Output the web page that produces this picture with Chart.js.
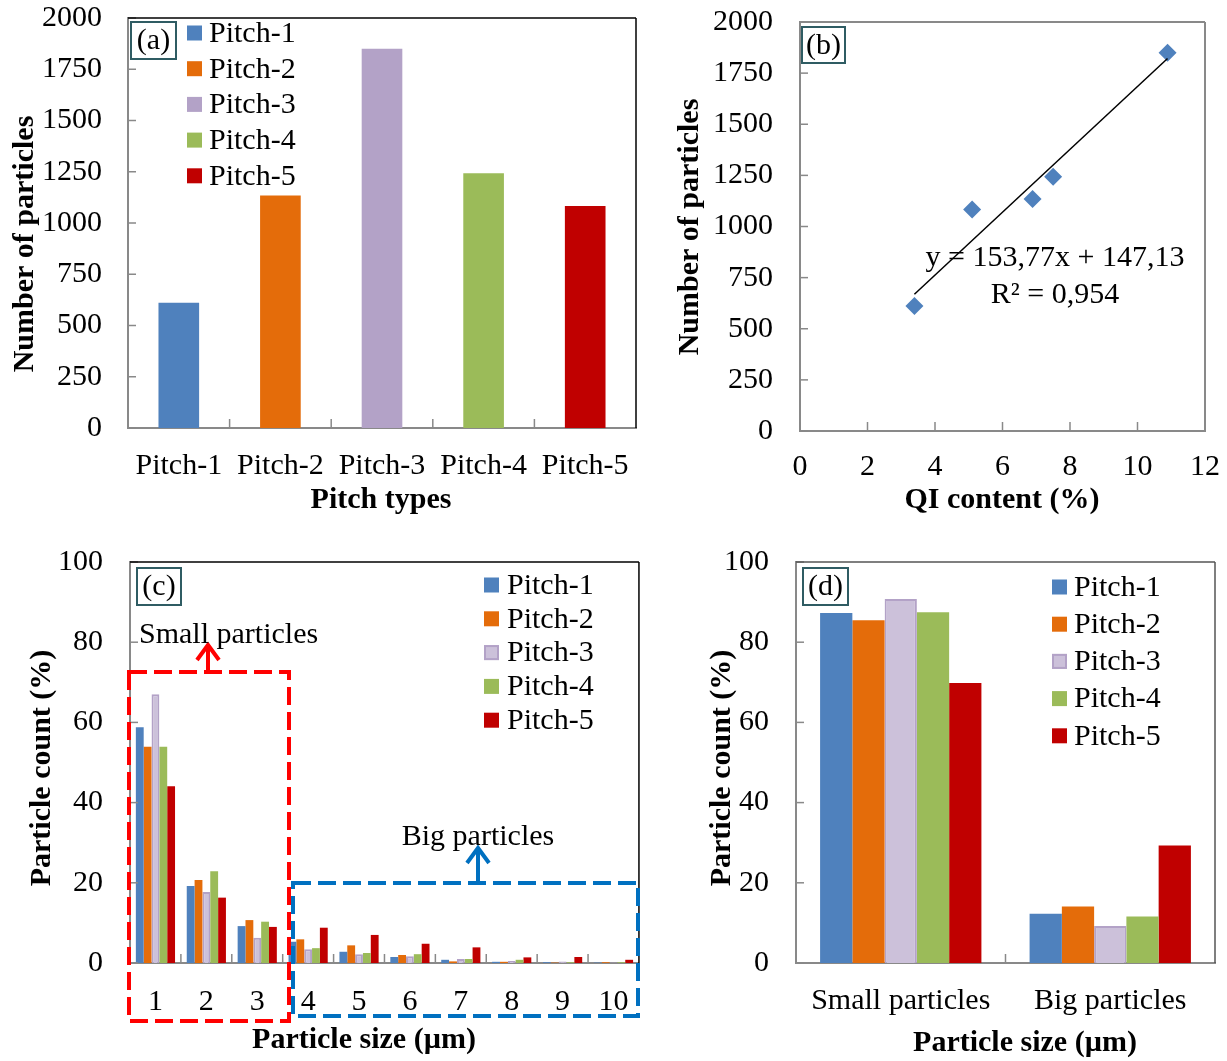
<!DOCTYPE html>
<html>
<head>
<meta charset="utf-8">
<script src="https://cdn.jsdelivr.net/npm/chart.js@4.4.1/dist/chart.umd.min.js"></script>
<style>
  body { margin: 0; background: #fff; width: 1227px; height: 1061px; position: relative; overflow: hidden; }
  canvas { position: absolute; }
</style>
</head>
<body>
<canvas id="chartA" width="650" height="560" style="left:0px;top:-30px"></canvas>
<canvas id="chartB" width="590" height="560" style="left:660px;top:-30px"></canvas>
<canvas id="chartC" width="650" height="561" style="left:0px;top:500px"></canvas>
<canvas id="chartD" width="567" height="561" style="left:660px;top:500px"></canvas>
<script>
// ---- data ----
const pitchNames = ["Pitch-1", "Pitch-2", "Pitch-3", "Pitch-4", "Pitch-5"];
const particleCounts = [611, 1134, 1850, 1243, 1083];
const qiContent = [3.39, 6.89, 10.89, 7.50, 5.10];
const fitSlope = 153.77;
const fitIntercept = 147.13;
const fitR2 = "0,954";

const sizeLabels = ["1", "2", "3", "4", "5", "6", "7", "8", "9", "10"];
const sizeP1 = [58.8, 19.2, 9.2, 5.3, 2.8, 1.5, 0.8, 0.3, 0.2, 0.1];
const sizeP2 = [53.9, 20.7, 10.7, 5.9, 4.4, 2.0, 0.4, 0.3, 0.1, 0.2];
const sizeP3 = [67.0, 17.7, 6.3, 3.4, 2.2, 1.7, 1.0, 0.5, 0.4, 0.1];
const sizeP4 = [53.9, 22.9, 10.3, 3.7, 2.5, 2.2, 1.0, 0.8, 0.2, 0.2];
const sizeP5 = [44.1, 16.3, 9.0, 8.8, 7.0, 4.8, 3.9, 1.4, 1.5, 0.8];

const groupLabels = ["Small particles", "Big particles"];
const groupP1 = [87.3, 12.3];
const groupP2 = [85.5, 14.1];
const groupP3 = [90.8, 9.2];
const groupP4 = [87.5, 11.6];
const groupP5 = [69.8, 29.3];

const countTicks = [0, 250, 500, 750, 1000, 1250, 1500, 1750, 2000];
const qiTicks = [0, 2, 4, 6, 8, 10, 12];
const percentTicks = [0, 20, 40, 60, 80, 100];

// ---- styles ----
const SERIF = "'Liberation Serif', 'Times New Roman', serif";
const colors = ["#4F81BD", "#E46C0A", "#B3A2C7", "#9BBB59", "#C00000"];
const lilacFill = "#CCC1DA";
const axisGray = "#898989";

Chart.defaults.font.family = SERIF;
Chart.defaults.font.size = 30;
Chart.defaults.color = "#000";

function legendItems(chart) {
  const ds = chart.data.datasets;
  if (ds.length === 1) {
    return chart.data.labels.map((l, i) => ({ text: l, fill: ds[0].backgroundColor[i], stroke: null }));
  }
  return ds.map(d => ({ text: d.label, fill: d.backgroundColor, stroke: d.borderWidth ? d.borderColor : null }));
}

// inner ticks, frame, titles, panel tag, legend, extras
const decor = {
  id: "decor",
  afterDraw(chart, args, o) {
    const ctx = chart.ctx;
    const { left, right, top, bottom } = chart.chartArea;
    const xs = chart.scales.x, ys = chart.scales.y;
    ctx.save();
    const line = (x1, y1, x2, y2) => { ctx.beginPath(); ctx.moveTo(x1, y1); ctx.lineTo(x2, y2); ctx.stroke(); };

    ctx.strokeStyle = axisGray;
    ctx.lineWidth = 1.5;
    ys.ticks.forEach((t, i) => { const py = ys.getPixelForTick(i); line(left, py, left + 8, py); });
    if (xs.type === "category") {
      const n = xs.ticks.length, w = (right - left) / n;
      for (let i = 1; i < n; i++) line(left + i * w, bottom, left + i * w, bottom - 9);
    } else {
      xs.ticks.forEach((t, i) => { const px = xs.getPixelForTick(i); line(px, bottom, px, bottom - 9); });
    }

    ctx.strokeStyle = o.frameColor;
    ctx.lineWidth = o.frameWidth;
    line(left, top, right, top);
    line(right, top, right, bottom);

    // page coordinates from here on
    ctx.translate(-o.ox, -o.oy);

    ctx.fillStyle = "#000";
    ctx.textAlign = "center";
    ctx.textBaseline = "middle";
    ctx.font = "bold 30px " + SERIF;
    o.titles.forEach(t => {
      ctx.save();
      ctx.translate(t.x, t.y);
      if (t.rot) ctx.rotate(-Math.PI / 2);
      ctx.fillText(t.text, 0, 0);
      ctx.restore();
    });

    const g = o.tag;
    ctx.strokeStyle = "#2F5C63";
    ctx.lineWidth = 2;
    ctx.strokeRect(g.x1, g.y1, g.x2 - g.x1, g.y2 - g.y1);
    ctx.font = "30px " + SERIF;
    ctx.fillText(g.text, (g.x1 + g.x2) / 2, (g.y1 + g.y2) / 2 + 1);

    const lg = o.legend;
    ctx.textAlign = "left";
    legendItems(chart).forEach((it, i) => {
      const cy = lg.y0 + i * lg.dy;
      ctx.fillStyle = it.fill;
      ctx.fillRect(lg.x, cy - lg.box / 2, lg.box, lg.box);
      if (it.stroke) {
        ctx.strokeStyle = it.stroke;
        ctx.lineWidth = 2;
        ctx.strokeRect(lg.x + 1, cy - lg.box / 2 + 1, lg.box - 2, lg.box - 2);
      }
      ctx.fillStyle = "#000";
      ctx.fillText(it.text, lg.textX, cy + 1);
    });

    if (o.extra) o.extra(ctx, chart);
    ctx.restore();
  }
};

function fixedAxis(size, horizontal) {
  return s => { if (horizontal) s.height = size; else s.width = size; };
}
function ticksFrom(arr) {
  return s => { s.ticks = arr.map(v => ({ value: v })); };
}
const plain = v => String(v);
const noGrid = { display: false, drawTicks: false };
const grayBorder = { display: true, color: axisGray, width: 2 };

// ---- (a) number of particles per pitch ----
new Chart(document.getElementById("chartA"), {
  type: "bar",
  data: {
    labels: pitchNames,
    datasets: [{ label: "Number of particles", data: particleCounts, backgroundColor: colors,
                 barPercentage: 0.4, categoryPercentage: 1 }]
  },
  options: {
    responsive: false, animation: false,
    layout: { padding: { left: 0, top: 48, right: 14, bottom: 0 } },
    plugins: {
      legend: { display: false }, tooltip: { enabled: false },
      decor: {
        ox: 0, oy: -30, frameColor: "#000", frameWidth: 1.5,
        titles: [
          { text: "Number of particles", x: 25, y: 244, rot: true },
          { text: "Pitch types", x: 381, y: 500 }
        ],
        tag: { text: "(a)", x1: 131, y1: 22, x2: 176, y2: 59 },
        legend: { x: 187, y0: 33, dy: 35.7, box: 15, textX: 209 }
      }
    },
    scales: {
      x: { grid: noGrid, border: grayBorder, ticks: { padding: 20 }, afterFit: fixedAxis(102, true) },
      y: { min: 0, max: 2000, grid: noGrid, border: grayBorder, ticks: { padding: 26, callback: plain },
           afterBuildTicks: ticksFrom(countTicks), afterFit: fixedAxis(128, false) }
    }
  },
  plugins: [decor]
});

// ---- (b) number of particles vs QI content ----
const qiMin = Math.min(...qiContent), qiMax = Math.max(...qiContent);
const fitLabel = "y = " + fitSlope.toFixed(2).replace(".", ",") + "x + " + fitIntercept.toFixed(2).replace(".", ",");
new Chart(document.getElementById("chartB"), {
  type: "scatter",
  data: {
    datasets: [
      { type: "line", label: "Linear fit", order: 0,
        data: [{ x: qiMin, y: fitSlope * qiMin + fitIntercept }, { x: qiMax, y: fitSlope * qiMax + fitIntercept }],
        borderColor: "#000", borderWidth: 1.5, pointRadius: 0, fill: false },
      { label: "Pitches", order: 1,
        data: qiContent.map((q, i) => ({ x: q, y: particleCounts[i] })),
        pointStyle: "rectRot", pointRadius: 9, backgroundColor: "#4F81BD", borderColor: "#4F81BD", borderWidth: 0 }
    ]
  },
  options: {
    responsive: false, animation: false,
    layout: { padding: { left: 0, top: 52, right: 45, bottom: 0 } },
    plugins: {
      legend: { display: false }, tooltip: { enabled: false },
      decor: {
        ox: 660, oy: -30, frameColor: axisGray, frameWidth: 2,
        titles: [
          { text: "Number of particles", x: 690, y: 227, rot: true },
          { text: "QI content (%)", x: 1002, y: 500 }
        ],
        tag: { text: "(b)", x1: 802, y1: 27, x2: 845, y2: 63 },
        legend: { x: 0, y0: 0, dy: 0, box: 0, textX: 0 },
        extra(ctx) {
          ctx.fillStyle = "#000";
          ctx.font = "30px " + SERIF;
          ctx.textAlign = "center";
          ctx.textBaseline = "alphabetic";
          ctx.fillText(fitLabel, 1055, 266);
          ctx.fillText("R² = " + fitR2, 1055, 303);
        }
      }
    },
    scales: {
      x: { type: "linear", min: 0, max: 12, grid: noGrid, border: grayBorder, ticks: { padding: 18, callback: plain },
           afterBuildTicks: ticksFrom(qiTicks), afterFit: fixedAxis(99, true) },
      y: { min: 0, max: 2000, grid: noGrid, border: grayBorder, ticks: { padding: 27, callback: plain },
           afterBuildTicks: ticksFrom(countTicks), afterFit: fixedAxis(140, false) }
    }
  },
  plugins: [decor]
});

// ---- (c) particle count per size ----
function pitchDatasets(series) {
  return series.map((vals, i) => ({
    label: pitchNames[i], data: vals,
    backgroundColor: i === 2 ? lilacFill : colors[i],
    borderColor: colors[i], borderWidth: i === 2 ? 2 : 0,
    categoryPercentage: 0.77, barPercentage: 1
  }));
}
function arrow(ctx, x, yTip, yBase, color) {
  ctx.strokeStyle = color;
  ctx.lineWidth = 4;
  ctx.setLineDash([]);
  ctx.beginPath(); ctx.moveTo(x, yBase); ctx.lineTo(x, yTip + 2); ctx.stroke();
  ctx.beginPath(); ctx.moveTo(x - 11, yTip + 15); ctx.lineTo(x, yTip); ctx.lineTo(x + 11, yTip + 15); ctx.stroke();
}
new Chart(document.getElementById("chartC"), {
  type: "bar",
  data: { labels: sizeLabels, datasets: pitchDatasets([sizeP1, sizeP2, sizeP3, sizeP4, sizeP5]) },
  options: {
    responsive: false, animation: false,
    layout: { padding: { left: 0, top: 62, right: 10, bottom: 0 } },
    plugins: {
      legend: { display: false }, tooltip: { enabled: false },
      decor: {
        ox: 0, oy: 500, frameColor: "#000", frameWidth: 1.5,
        titles: [
          { text: "Particle count (%)", x: 42, y: 768, rot: true },
          { text: "Particle size (µm)", x: 364, y: 1040 }
        ],
        tag: { text: "(c)", x1: 137, y1: 568, x2: 181, y2: 605 },
        legend: { x: 484, y0: 585, dy: 33.8, box: 15, textX: 507 },
        extra(ctx) {
          ctx.lineWidth = 4;
          ctx.setLineDash([18, 7]);
          ctx.strokeStyle = "#FF0000";
          ctx.strokeRect(129, 672, 160, 349);
          ctx.strokeStyle = "#0070C0";
          ctx.strokeRect(293, 883, 345, 133);
          arrow(ctx, 208, 645, 672, "#FF0000");
          arrow(ctx, 478, 848, 883, "#0070C0");
          ctx.fillStyle = "#000";
          ctx.font = "30px " + SERIF;
          ctx.textBaseline = "alphabetic";
          ctx.textAlign = "left";
          ctx.fillText("Small particles", 139, 643);
          ctx.textAlign = "center";
          ctx.fillText("Big particles", 478, 845);
        }
      }
    },
    scales: {
      x: { grid: noGrid, border: grayBorder, ticks: { padding: 21 }, afterFit: fixedAxis(98, true) },
      y: { min: 0, max: 100, grid: noGrid, border: grayBorder, ticks: { padding: 27, callback: plain },
           afterBuildTicks: ticksFrom(percentTicks), afterFit: fixedAxis(130, false) }
    }
  },
  plugins: [decor]
});

// ---- (d) small vs big particles ----
new Chart(document.getElementById("chartD"), {
  type: "bar",
  data: { labels: groupLabels, datasets: pitchDatasets([groupP1, groupP2, groupP3, groupP4, groupP5]) },
  options: {
    responsive: false, animation: false,
    layout: { padding: { left: 0, top: 62, right: 12, bottom: 0 } },
    plugins: {
      legend: { display: false }, tooltip: { enabled: false },
      decor: {
        ox: 660, oy: 500, frameColor: "#555", frameWidth: 1.5,
        titles: [
          { text: "Particle count (%)", x: 722, y: 768, rot: true },
          { text: "Particle size (µm)", x: 1025, y: 1043 }
        ],
        tag: { text: "(d)", x1: 803, y1: 568, x2: 848, y2: 605 },
        legend: { x: 1052, y0: 587, dy: 37.2, box: 15, textX: 1074 }
      }
    },
    scales: {
      x: { grid: noGrid, border: grayBorder, ticks: { padding: 20 }, afterFit: fixedAxis(98, true) },
      y: { min: 0, max: 100, grid: noGrid, border: grayBorder, ticks: { padding: 27, callback: plain },
           afterBuildTicks: ticksFrom(percentTicks), afterFit: fixedAxis(136, false) }
    }
  },
  plugins: [decor]
});
</script>
</body>
</html>
